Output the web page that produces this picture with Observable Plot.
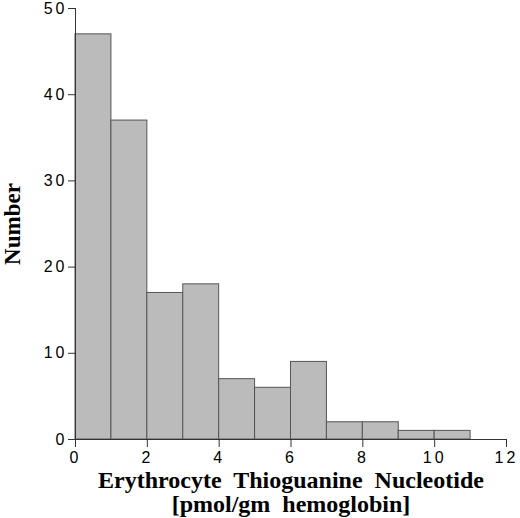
<!DOCTYPE html>
<html>
<head>
<meta charset="utf-8">
<script src="https://cdn.jsdelivr.net/npm/d3@7"></script>
<script src="https://cdn.jsdelivr.net/npm/@observablehq/plot@0.6"></script>
<style>
  html, body { margin: 0; padding: 0; background: #fff; }
</style>
</head>
<body>
<div id="chart"></div>
<script>
const binStarts = [0, 1, 2, 3, 4, 5, 6, 7, 8, 9, 10];
const binEnds   = [1, 2, 3, 4, 5, 6, 7, 8, 9, 10, 11];
const counts    = [47, 37, 17, 18, 7, 6, 9, 2, 2, 1, 1];
const xTicks = [0, 2, 4, 6, 8, 10, 12];
const yTicks = [0, 10, 20, 30, 40, 50];
const xLabel = "Erythrocyte  Thioguanine  Nucleotide\n[pmol/gm  hemoglobin]";
const yLabel = "Number";

const bins = binStarts.map((s, i) => ({x1: s, x2: binEnds[i], n: counts[i]}));

const chart = Plot.plot({
  width: 520,
  height: 518,
  marginLeft: 75,
  marginRight: 14,
  marginTop: 8,
  marginBottom: 79,
  style: {background: "#fff", color: "#000"},
  x: {domain: [0, 12], ticks: xTicks, label: null},
  y: {domain: [0, 50], ticks: yTicks, label: null},
  marks: [
    Plot.rectY(bins, {x1: "x1", x2: "x2", y: "n", fill: "#bbbbbb", stroke: "#555", strokeWidth: 1}),
    Plot.ruleY([0], {stroke: "#333", strokeWidth: 1}),
    Plot.ruleX([0], {y1: 0, y2: 50, stroke: "#333", strokeWidth: 1}),
    Plot.axisX({ticks: xTicks, tickSize: 8, tickPadding: 4, stroke: "#333", fill: "#000", label: null, fontSize: 16, fontFamily: "Liberation Sans, Arial, sans-serif"}),
    Plot.axisY({ticks: yTicks, tickSize: 7, tickPadding: 1, stroke: "#333", fill: "#000", label: null, fontSize: 16, fontFamily: "Liberation Sans, Arial, sans-serif"}),
    Plot.text([xLabel], {frameAnchor: "bottom", dy: 32, dx: 0, lineAnchor: "top", lineHeight: 0.98, fontFamily: "Liberation Serif, Times New Roman, serif", fontWeight: "bold", fontSize: 24, fill: "#000", text: d => d}),
    Plot.text([yLabel], {frameAnchor: "left", textAnchor: "middle", dx: -63, rotate: -90, fontFamily: "Liberation Serif, Times New Roman, serif", fontWeight: "bold", fontSize: 23, fill: "#000", text: d => d})
  ]
});
d3.select(chart).selectAll('g[aria-label$="tick label"] text')
  .style("font-size", "16px")
  .style("letter-spacing", "3px");
document.getElementById("chart").appendChild(chart);
</script>
</body>
</html>
